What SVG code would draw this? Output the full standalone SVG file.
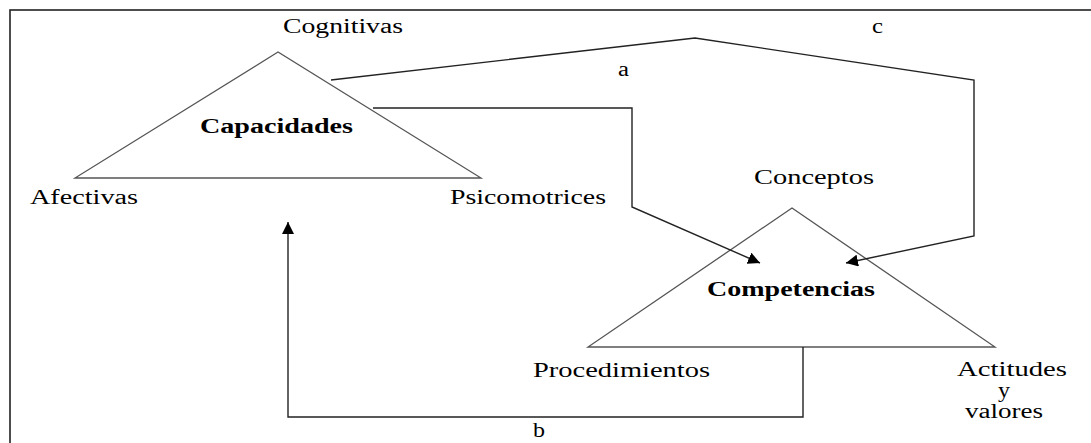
<svg xmlns="http://www.w3.org/2000/svg" width="1091" height="443" viewBox="0 0 1091 443">
  <style>
    .frame { fill: none; stroke: #222; stroke-width: 1.6; }
    .tri { fill: none; stroke: #555; stroke-width: 1.3; }
    .link { fill: none; stroke: #222; stroke-width: 1.4; }
    .lbl { font-family: 'Times New Roman', 'Liberation Serif', 'DejaVu Serif', serif; font-size: 20px; fill: #000; }
    .title { font-weight: bold; }
  </style>
  <defs>
    <marker id="arrow" markerUnits="userSpaceOnUse" viewBox="0 0 12 12" refX="12" refY="6" markerWidth="12" markerHeight="12" orient="auto">
      <path d="M0,0 L12,6 L0,12 z" fill="#000"/>
    </marker>
  </defs>

  <rect x="10" y="10" width="1100" height="450" class="frame"/>

  <g id="capacidades">
    <polygon class="tri" points="278,52 75,178 481,178"/>
    <text class="lbl title" x="200" y="133" textLength="153" lengthAdjust="spacingAndGlyphs">Capacidades</text>
    <text class="lbl" x="283" y="33" textLength="120" lengthAdjust="spacingAndGlyphs">Cognitivas</text>
    <text class="lbl" x="30" y="204" textLength="108" lengthAdjust="spacingAndGlyphs">Afectivas</text>
    <text class="lbl" x="450" y="204" textLength="156" lengthAdjust="spacingAndGlyphs">Psicomotrices</text>
  </g>

  <g id="competencias">
    <polygon class="tri" points="792,208 588,347 995,347"/>
    <text class="lbl title" x="707" y="296" textLength="168" lengthAdjust="spacingAndGlyphs">Competencias</text>
    <text class="lbl" x="754" y="184" textLength="120" lengthAdjust="spacingAndGlyphs">Conceptos</text>
    <text class="lbl" x="533" y="377" textLength="177" lengthAdjust="spacingAndGlyphs">Procedimientos</text>
    <text class="lbl" x="957" y="376" textLength="110" lengthAdjust="spacingAndGlyphs">Actitudes</text>
    <text class="lbl" x="998" y="397" textLength="12" lengthAdjust="spacingAndGlyphs">y</text>
    <text class="lbl" x="965" y="418" textLength="78" lengthAdjust="spacingAndGlyphs">valores</text>
  </g>

  <g id="connectors">
    <path class="link" d="M331,80 L695,38 L974,80 L974,236 L846,263" marker-end="url(#arrow)"/>
    <path class="link" d="M373,108 L632,108 L632,207 L760,263" marker-end="url(#arrow)"/>
    <path class="link" d="M803,347 L803,417 L288,417 L288,222" marker-end="url(#arrow)"/>
    <text class="lbl" x="618" y="76" textLength="11" lengthAdjust="spacingAndGlyphs">a</text>
    <text class="lbl" x="533" y="437" textLength="12" lengthAdjust="spacingAndGlyphs">b</text>
    <text class="lbl" x="872" y="33" textLength="11" lengthAdjust="spacingAndGlyphs">c</text>
  </g>
</svg>
